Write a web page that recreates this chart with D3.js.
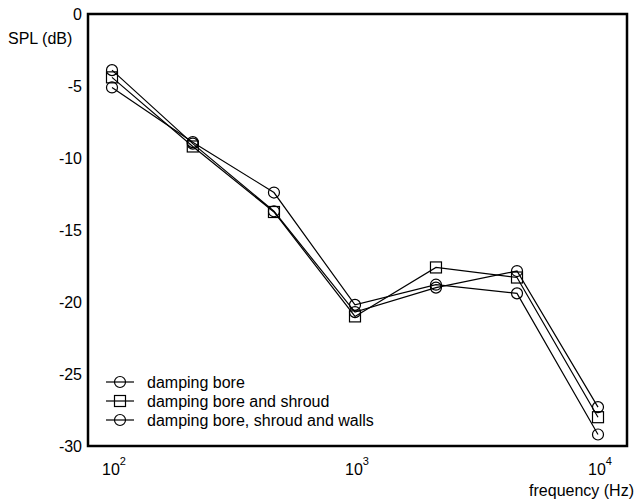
<!DOCTYPE html>
<html><head><meta charset="utf-8">
<script src="https://cdn.jsdelivr.net/npm/d3@7"></script>
<style>body{margin:0;background:#fff}svg{display:block}text{font-family:"Liberation Sans",Arial,sans-serif;fill:#000}</style>
</head><body>
<svg id="c" width="637" height="503"></svg>
<script>
const freqs = [100, 215, 464, 1000, 2154, 4642, 10000];
const seriesNames = ["damping bore", "damping bore and shroud", "damping bore, shroud and walls"];
const seriesMarkers = ["circle", "square", "circle"];
const boreValues = [-5.1, -8.9, -12.4, -20.2, -18.8, -19.4, -29.2];
const shroudValues = [-4.4, -9.2, -13.75, -21.0, -17.6, -18.3, -28.0];
const wallsValues = [-3.9, -9.0, -13.7, -20.7, -19.0, -17.85, -27.3];
const yTicks = [0, -5, -10, -15, -20, -25, -30];
const xTickExps = [2, 3, 4];

const svg = d3.select("#c");
const L = 88, R = 627, T = 14, B = 446;
const FS = 16;
const x = d3.scaleLog().domain([Math.pow(10, 2 - 24/243), Math.pow(10, 4 + 29/243)]).range([L, R]);
const y = d3.scaleLinear().domain([-30, 0]).range([B, T]);

// y tick labels
const yAxis = d3.axisLeft(y).tickValues(yTicks).tickSize(0).tickPadding(6).tickFormat(d => d === 0 ? "0" : "-" + Math.abs(d));
const ga = svg.append("g").attr("transform", `translate(${L},0)`).call(yAxis);
ga.select(".domain").remove();
ga.selectAll("text").attr("font-size", FS).style("font-family", '"Liberation Sans",Arial,sans-serif');

// x tick labels with superscripts
const gx = svg.append("g");
xTickExps.forEach(e => {
  const t = gx.append("text").attr("x", x(Math.pow(10, e)) + 2).attr("y", 475).attr("text-anchor", "middle").attr("font-size", FS);
  t.append("tspan").text("10");
  t.append("tspan").attr("dy", -10).attr("font-size", 11).text(e);
});

// box
svg.append("rect").attr("x", L).attr("y", T).attr("width", R - L).attr("height", B - T)
  .attr("fill", "none").attr("stroke", "#000").attr("stroke-width", 2.5);

svg.append("text").attr("x", 8).attr("y", 44).attr("font-size", FS).text("SPL (dB)");
svg.append("text").attr("x", 634).attr("y", 496).attr("text-anchor", "end").attr("font-size", FS).text("frequency (Hz)");

const allSeries = [boreValues, shroudValues, wallsValues];
const line = d3.line().x((d, i) => x(freqs[i])).y(d => y(d));

function marker(g, type, cx, cy) {
  if (type === "circle") {
    g.append("circle").attr("cx", cx).attr("cy", cy).attr("r", 5.5)
      .attr("fill", "none").attr("stroke", "#000").attr("stroke-width", 1.2);
  } else {
    g.append("rect").attr("x", cx - 5.5).attr("y", cy - 5.5).attr("width", 11).attr("height", 11)
      .attr("fill", "none").attr("stroke", "#000").attr("stroke-width", 1.2);
  }
}

allSeries.forEach((vals, si) => {
  const g = svg.append("g");
  g.append("path").datum(vals).attr("d", line).attr("fill", "none").attr("stroke", "#000").attr("stroke-width", 1.2);
  vals.forEach((v, i) => marker(g, seriesMarkers[si], x(freqs[i]), y(v)));
});

// legend
seriesNames.forEach((name, i) => {
  const ly = 382 + i * 19;
  const g = svg.append("g");
  g.append("line").attr("x1", 106).attr("x2", 134).attr("y1", ly).attr("y2", ly).attr("stroke", "#000").attr("stroke-width", 1.2);
  marker(g, seriesMarkers[i], 120, ly);
  g.append("text").attr("x", 147).attr("y", ly + 5.5).attr("font-size", FS).text(name);
});
</script>
</body></html>
